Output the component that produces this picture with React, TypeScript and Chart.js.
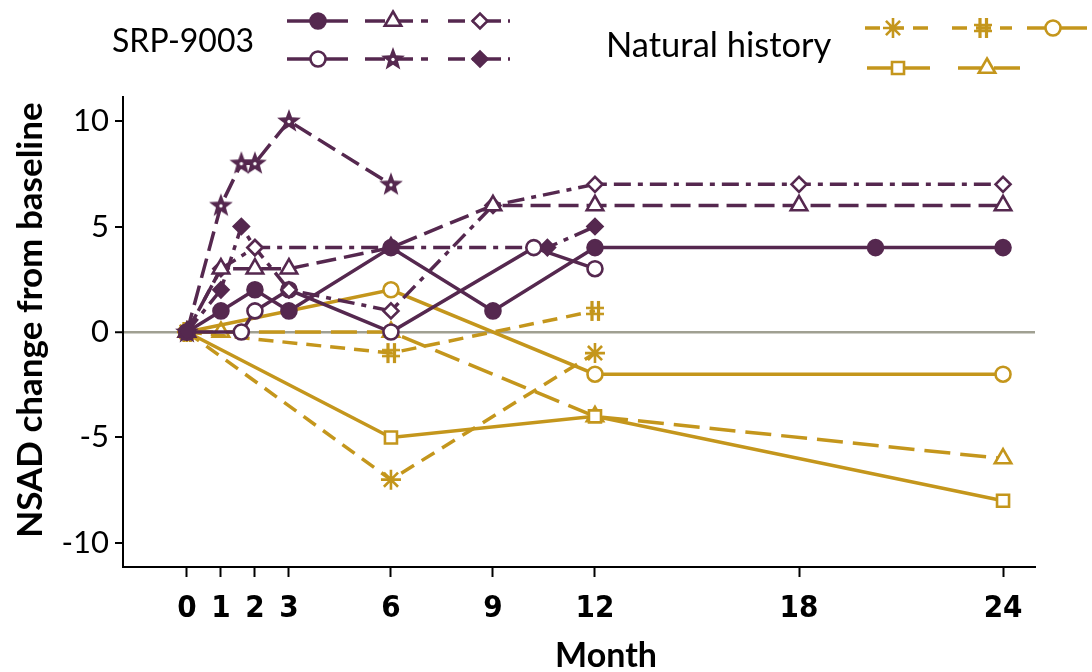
import React, { useEffect, useRef } from 'react';
import { Chart, registerables } from 'chart.js';
import { drawPoint } from 'chart.js/helpers';

Chart.register(...registerables);

// ---------- data ----------
const xTickValues = [0, 1, 2, 3, 6, 9, 12, 18, 24];
const yTickValues = [-10, -5, 0, 5, 10];

// SRP-9003 subjects
const srpFilledCircleX = [0, 1, 2, 3, 6, 9, 12, 20.25, 24];
const srpFilledCircleY = [0, 1, 2, 1, 4, 1, 4, 4, 4];
const srpOpenTriangleX = [0, 1, 2, 3, 6, 9, 12, 18, 24];
const srpOpenTriangleY = [0, 3, 3, 3, 4, 6, 6, 6, 6];
const srpOpenDiamondX = [0, 1, 2, 3, 6, 9, 12, 18, 24];
const srpOpenDiamondY = [0, 3, 4, 2, 1, 6, 7, 7, 7];
const srpOpenCircleX = [0, 1.6, 2, 3, 6, 10.2, 12];
const srpOpenCircleY = [0, 0, 1, 2, 0, 4, 3];
const srpStarX = [0, 1, 1.6, 2, 3, 6];
const srpStarY = [0, 6, 8, 8, 10, 7];
const srpFilledDiamondX = [0, 1, 1.6, 2, 10.6, 12];
const srpFilledDiamondY = [0, 2, 5, 4, 4, 5];

// Natural history subjects
const nhAsteriskX = [0, 6, 12];
const nhAsteriskY = [0, -7, -1];
const nhHashX = [0, 6, 12];
const nhHashY = [0, -1, 1];
const nhOpenCircleX = [0, 6, 12, 24];
const nhOpenCircleY = [0, 2, -2, -2];
const nhSquareX = [0, 6, 12, 24];
const nhSquareY = [0, -5, -4, -8];
const nhTriangleX = [0, 1, 6, 12, 24];
const nhTriangleY = [0, 0, 0, -4, -6];

const groupLabels = ['SRP-9003', 'Natural history'];
const xTitle = 'Month';
const yTitle = 'NSAD change from baseline';

// ---------- styles ----------
const PURPLE = '#55284f';
const GOLD = '#c4961c';
const ZERO = '#a0a092';
const FONT = "Lato, 'Open Sans', sans-serif";
const NARROW = "'Liberation Sans Narrow', 'DejaVu Sans Condensed', Lato, sans-serif";

const LONG_DASH = [20, 8];
const DASH_DOT = [17, 7, 5, 7];
const GOLD_DASH = [15, 9];
const GOLD_LONG = [26, 10];

function pts(xs: number[], ys: number[]) {
  return xs.map((x, i) => ({ x, y: ys[i] }));
}

function makeStar(color: string) {
  const c = document.createElement('canvas');
  c.width = 28;
  c.height = 28;
  const g = c.getContext('2d')!;
  const cx = 14, cy = 14.5, R = 12.5, r = 5.2;
  g.beginPath();
  for (let i = 0; i < 10; i++) {
    const rad = (i % 2 === 0 ? R : r);
    const a = -Math.PI / 2 + (i * Math.PI) / 5;
    const px = cx + rad * Math.cos(a);
    const py = cy + rad * Math.sin(a);
    if (i === 0) g.moveTo(px, py); else g.lineTo(px, py);
  }
  g.closePath();
  g.fillStyle = color;
  g.fill();
  g.fillStyle = '#ffffff';
  g.beginPath();
  g.arc(cx, cy, 1.7, 0, Math.PI * 2);
  g.fill();
  return c;
}

function makeHash(color: string) {
  const c = document.createElement('canvas');
  c.width = 22;
  c.height = 24;
  const g = c.getContext('2d')!;
  g.strokeStyle = color;
  g.lineWidth = 3.2;
  g.beginPath();
  g.moveTo(8, 2); g.lineTo(8, 22);
  g.moveTo(14.5, 2); g.lineTo(14.5, 22);
  g.stroke();
  g.lineWidth = 2.6;
  g.beginPath();
  g.moveTo(2, 9); g.lineTo(20, 9);
  g.moveTo(2, 15); g.lineTo(20, 15);
  g.stroke();
  return c;
}

// legend layout: [datasetIndex, lineStartX, lineEndX, markerX, y]
const legendLayout: number[][] = [
  [0, 287, 348, 318, 21],
  [1, 365, 428, 393, 21],
  [2, 448, 510, 480, 21],
  [3, 287, 348, 318, 59],
  [4, 365, 428, 393, 59],
  [5, 448, 510, 480, 59],
  [6, 865, 928, 893, 28],
  [7, 952, 1012, 983, 28],
  [8, 1027, 1087, 1053, 28],
  [9, 867, 930, 898, 68],
  [10, 958, 1022, 987, 68],
];

export default function App() {
  const ref = useRef<HTMLCanvasElement | null>(null);

  useEffect(() => {
    if (!ref.current) return;
    const star = makeStar(PURPLE);
    const hash = makeHash(GOLD);

    const base = (color: string) => ({
      borderColor: color,
      borderWidth: 3.5,
      pointBorderColor: color,
      pointBorderWidth: 2.6,
      tension: 0,
      fill: false,
      pointHoverRadius: 7,
    });

    const datasets: any[] = [
      { ...base(PURPLE), data: pts(srpFilledCircleX, srpFilledCircleY), pointStyle: 'circle', pointRadius: 7.5, pointBackgroundColor: PURPLE },
      { ...base(PURPLE), data: pts(srpOpenTriangleX, srpOpenTriangleY), borderDash: LONG_DASH, pointStyle: 'triangle', pointRadius: 9.5, pointBackgroundColor: '#fff' },
      { ...base(PURPLE), data: pts(srpOpenDiamondX, srpOpenDiamondY), borderDash: DASH_DOT, pointStyle: 'rectRot', pointRadius: 7.5, pointBackgroundColor: '#fff' },
      { ...base(PURPLE), data: pts(srpOpenCircleX, srpOpenCircleY), pointStyle: 'circle', pointRadius: 7.5, pointBackgroundColor: '#fff' },
      { ...base(PURPLE), data: pts(srpStarX, srpStarY), borderDash: LONG_DASH, pointStyle: star, pointRadius: 12, pointBackgroundColor: PURPLE },
      { ...base(PURPLE), data: pts(srpFilledDiamondX, srpFilledDiamondY), borderDash: DASH_DOT, pointStyle: 'rectRot', pointRadius: 7.5, pointBackgroundColor: PURPLE },
      { ...base(GOLD), data: pts(nhAsteriskX, nhAsteriskY), borderDash: GOLD_DASH, pointStyle: 'star', pointRadius: 10, pointBackgroundColor: GOLD },
      { ...base(GOLD), data: pts(nhHashX, nhHashY), borderDash: GOLD_DASH, pointStyle: hash, pointRadius: 11, pointBackgroundColor: GOLD },
      { ...base(GOLD), data: pts(nhOpenCircleX, nhOpenCircleY), pointStyle: 'circle', pointRadius: 7.5, pointBackgroundColor: '#fff' },
      { ...base(GOLD), data: pts(nhSquareX, nhSquareY), pointStyle: 'rect', pointRadius: 8.5, pointBackgroundColor: '#fff' },
      { ...base(GOLD), data: pts(nhTriangleX, nhTriangleY), borderDash: GOLD_LONG, pointStyle: 'triangle', pointRadius: 9.5, pointBackgroundColor: '#fff' },
    ];

    const decor = {
      id: 'decor',
      afterDraw(chart: any) {
        const ctx = chart.ctx as CanvasRenderingContext2D;
        ctx.save();
        // group labels
        ctx.fillStyle = '#000';
        ctx.textAlign = 'left';
        ctx.textBaseline = 'middle';
        ctx.font = `32px ${FONT}`;
        ctx.fillText(groupLabels[0], 112, 42);
        ctx.font = `34.5px ${FONT}`;
        ctx.fillText(groupLabels[1], 606, 46);
        // legend samples
        legendLayout.forEach(([di, x0, x1, mx, y]) => {
          const ds = chart.data.datasets[di];
          ctx.save();
          ctx.strokeStyle = ds.borderColor;
          ctx.lineWidth = 3.5;
          ctx.setLineDash(ds.borderDash || []);
          ctx.beginPath();
          ctx.moveTo(x0, y);
          ctx.lineTo(x1, y);
          ctx.stroke();
          ctx.restore();
          ctx.save();
          ctx.setLineDash([]);
          ctx.fillStyle = ds.pointBackgroundColor;
          ctx.strokeStyle = ds.pointBorderColor;
          ctx.lineWidth = ds.pointBorderWidth;
          drawPoint(ctx, { pointStyle: ds.pointStyle, radius: ds.pointRadius, rotation: 0, borderWidth: ds.pointBorderWidth } as any, mx, y);
          ctx.restore();
        });
        // axis titles
        ctx.fillStyle = '#000';
        ctx.font = `bold 34px ${FONT}`;
        ctx.textAlign = 'center';
        ctx.textBaseline = 'middle';
        ctx.fillText(xTitle, 606, 656);
        ctx.font = `bold 35px ${FONT}`;
        ctx.translate(31, 320);
        ctx.rotate(-Math.PI / 2);
        ctx.fillText(yTitle, 0, 0);
        ctx.restore();
      },
    };

    const chart = new Chart(ref.current, {
      type: 'line',
      data: { datasets },
      plugins: [decor],
      options: {
        animation: false,
        responsive: false,
        layout: { padding: { top: 97, right: 57, left: 0, bottom: 0 } },
        plugins: { legend: { display: false }, tooltip: { enabled: false }, title: { display: false } },
        elements: { line: { borderCapStyle: 'butt' } },
        scales: {
          x: {
            type: 'linear',
            min: -1.88,
            max: 24.94,
            afterBuildTicks: (s: any) => { s.ticks = xTickValues.map((v) => ({ value: v })); },
            afterFit: (s: any) => { s.height = 105; },
            border: { display: true, color: '#000', width: 2 },
            grid: { display: true, drawOnChartArea: false, drawTicks: true, tickLength: 10, tickColor: '#000', tickWidth: 2 },
            ticks: { color: '#000', font: { family: NARROW, size: 31, weight: 'bold' }, padding: 13, maxRotation: 0, autoSkip: false },
          },
          y: {
            type: 'linear',
            min: -11.14,
            max: 11.14,
            afterBuildTicks: (s: any) => { s.ticks = yTickValues.map((v) => ({ value: v })); },
            afterFit: (s: any) => { s.width = 123; },
            border: { display: true, color: '#000', width: 2 },
            grid: {
              display: true,
              drawOnChartArea: true,
              drawTicks: true,
              tickLength: 8,
              tickColor: '#000',
              tickWidth: 2,
              color: (c: any) => (c.tick && c.tick.value === 0 ? ZERO : 'rgba(0,0,0,0)'),
              lineWidth: (c: any) => (c.tick && c.tick.value === 0 ? 2.5 : 0),
            },
            ticks: { color: '#000', font: { family: FONT, size: 31 }, padding: 6, autoSkip: false },
          },
        },
      } as any,
    });

    return () => chart.destroy();
  }, []);

  return (
    <div style={{ position: 'absolute', left: 0, top: 0, width: 1092, height: 672, background: '#fff' }}>
      <canvas ref={ref} width={1092} height={672} style={{ width: 1092, height: 672, display: 'block' }} />
    </div>
  );
}
